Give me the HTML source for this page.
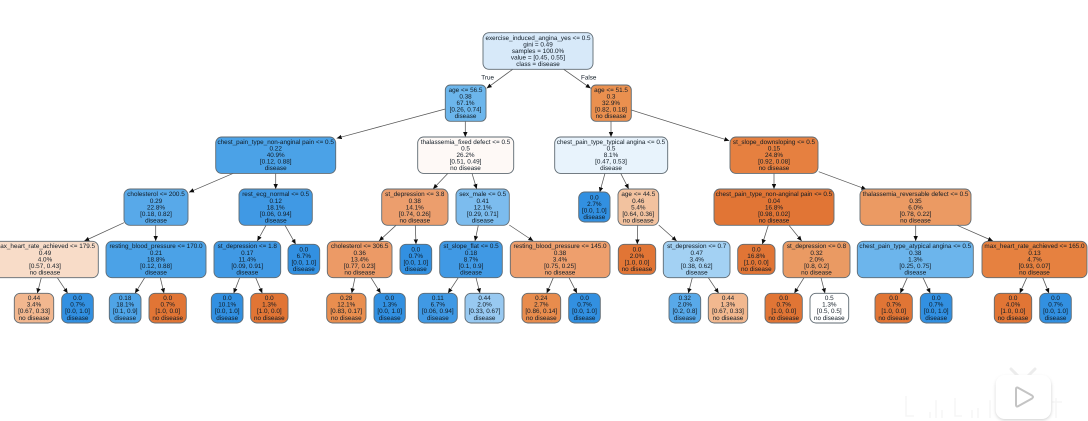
<!DOCTYPE html>
<html><head><meta charset="utf-8"><style>
html,body{margin:0;padding:0;background:#fff;width:1088px;height:421px;overflow:hidden}
svg{display:block;position:absolute;left:0;top:0}
text{font-family:"Liberation Sans",sans-serif;font-size:6.35px;fill:#101a24;text-anchor:middle;text-rendering:geometricPrecision}
.n rect{stroke:#5f6a72;stroke-width:.9}
.e path{stroke:#555;stroke-width:.75;fill:none;marker-end:url(#a)}
</style></head><body>
<svg width="1088" height="421" viewBox="0 0 1088 421" xmlns="http://www.w3.org/2000/svg">
<defs>
<marker id="a" markerUnits="userSpaceOnUse" markerWidth="6" markerHeight="6" refX="5" refY="2.2" orient="auto"><path d="M0 0L5 2.2L0 4.4z" fill="#111"/></marker>
<filter id="b" x="-2%" y="-2%" width="104%" height="104%"><feGaussianBlur stdDeviation=".3"/></filter>
<filter id="s" x="-20%" y="-20%" width="140%" height="140%"><feGaussianBlur stdDeviation="1.6"/></filter>
</defs>
<g filter="url(#b)">
<g class="e">
<path d="M512.7 69.3L486.7 88.3"/><path d="M563.7 69.3L590.7 88.3"/>
<path d="M445.3 109L336.7 138.3"/><path d="M465.3 121L465.3 137"/>
<path d="M611 121L611 137"/><path d="M631.3 110L729.3 140.7"/>
<path d="M233.3 173.3L189 192.3"/><path d="M275.7 173.3L275.7 189"/>
<path d="M124 222.7L84.3 241"/><path d="M155.7 225.3L155.7 241"/>
<path d="M266 225.3L257.3 241"/><path d="M285 225.3L295.7 244.3"/>
<path d="M41.3 277.7L37.3 293.3"/><path d="M57.3 277.7L67.7 293.3"/>
<path d="M144.7 277.7L135 293.3"/><path d="M160.3 277.7L164 293.3"/>
<path d="M239.7 277.7L233.7 293.3"/><path d="M255.7 277.7L262.3 293.3"/>
<path d="M448 173.3L433 189"/><path d="M472 173.3L476.7 189"/>
<path d="M396 225.3L379 241"/><path d="M415.3 225.3L416 244.3"/>
<path d="M478.3 225.3L475 241"/><path d="M509.3 225L533.3 241"/>
<path d="M355 277.7L351.7 293.3"/><path d="M371 277.7L380.7 293.3"/>
<path d="M458.3 277.7L448 293.3"/><path d="M476 277.7L480 293.3"/>
<path d="M553.3 277.7L546.7 293.3"/><path d="M569 277.7L577 293.3"/>
<path d="M605 173.3L599.7 192.3"/><path d="M620.7 173.3L628.7 189"/>
<path d="M637.7 225.3L637.3 244.3"/><path d="M658.7 225L676.7 241"/>
<path d="M692.3 277.7L688.3 293.3"/><path d="M708.3 277.7L718.7 293.3"/>
<path d="M774 173.3L774 189"/><path d="M818.7 171.7L866.3 189.3"/>
<path d="M768.3 225.3L762.3 244.3"/><path d="M789 225.3L801.7 241"/>
<path d="M804 277.7L794.3 293.3"/><path d="M821 277.7L825 293.3"/>
<path d="M915.7 225.3L915.7 241"/><path d="M957.3 225.3L993 241"/>
<path d="M907.3 277.7L900.3 293.3"/><path d="M923 277.7L930.3 293.3"/>
<path d="M1026.7 277.7L1019.7 293.3"/><path d="M1042.7 277.7L1049 293.3"/>
</g>
<text x="487.7" y="79.5">True</text><text x="588.7" y="79.5">False</text>

<g class="n">
<rect x="483" y="32.7" width="110" height="36.6" rx="6" fill="#d7e9f9"/>
<rect x="445.3" y="85" width="40.7" height="36.3" rx="5" fill="#6cb6ec"/>
<rect x="591" y="85" width="40.3" height="36.3" rx="5" fill="#ea9050"/>
<rect x="215.7" y="137" width="120" height="36.4" rx="6" fill="#4ba2e7"/>
<rect x="417.7" y="137" width="96" height="36.4" rx="6" fill="#fef9f6"/>
<rect x="554.7" y="137" width="113" height="36.4" rx="6" fill="#e8f3fc"/>
<rect x="730" y="137" width="88" height="36.4" rx="6" fill="#e6803f"/>
<rect x="124" y="189" width="64" height="36.3" rx="6" fill="#59a9e9"/>
<rect x="239" y="189" width="73.3" height="36.3" rx="6" fill="#4199e4"/>
<rect x="381.7" y="189" width="66.3" height="36.3" rx="6" fill="#ec9e6d"/>
<rect x="456" y="189" width="53.3" height="36.3" rx="6" fill="#7bbcee"/>
<rect x="578.7" y="192" width="31.3" height="30" rx="6" fill="#3090e1"/>
<rect x="618" y="189" width="40.7" height="36.3" rx="6" fill="#f2c29f"/>
<rect x="714" y="189" width="120" height="36.3" rx="6" fill="#e17535"/>
<rect x="860" y="189" width="111" height="36.3" rx="6" fill="#eb9a64"/>
<rect x="-8" y="241.3" width="106.3" height="36.4" rx="6" fill="#f8dcc8"/>
<rect x="106" y="241.3" width="100" height="36.4" rx="6" fill="#4ba2e7"/>
<rect x="214" y="241.3" width="66.7" height="36.4" rx="6" fill="#4099e4"/>
<rect x="288" y="244.3" width="31.7" height="30" rx="6" fill="#3090e1"/>
<rect x="327.3" y="241.3" width="64.7" height="36.4" rx="6" fill="#ec9a66"/>
<rect x="400" y="244.3" width="31.7" height="30" rx="6" fill="#3090e1"/>
<rect x="439.7" y="241.3" width="62.6" height="36.4" rx="6" fill="#4099e4"/>
<rect x="510.3" y="241.3" width="99.7" height="36.4" rx="6" fill="#ee9f6d"/>
<rect x="618.3" y="244.3" width="37.4" height="30" rx="6" fill="#e17535"/>
<rect x="663.3" y="241.3" width="66.7" height="36.4" rx="6" fill="#a3d1f3"/>
<rect x="737.7" y="244.3" width="37.3" height="30" rx="6" fill="#e17535"/>
<rect x="783" y="241.3" width="67" height="36.4" rx="6" fill="#ea9a64"/>
<rect x="857.3" y="241.3" width="116" height="36.4" rx="6" fill="#6cb5ec"/>
<rect x="982" y="241.3" width="105" height="36.4" rx="6" fill="#e6813f"/>
<rect x="14.3" y="293.3" width="39.4" height="29.7" rx="6" fill="#f2b78f"/>
<rect x="61.7" y="293.3" width="31.6" height="29.7" rx="6" fill="#3090e1"/>
<rect x="109.3" y="293.3" width="31.7" height="29.7" rx="6" fill="#4fa4e7"/>
<rect x="149" y="293.3" width="37.3" height="29.7" rx="6" fill="#e17535"/>
<rect x="211.3" y="293.3" width="31.7" height="29.7" rx="6" fill="#3090e1"/>
<rect x="250.7" y="293.3" width="37.3" height="29.7" rx="6" fill="#e17535"/>
<rect x="326.7" y="293.3" width="39.3" height="29.7" rx="6" fill="#e98e50"/>
<rect x="374" y="293.3" width="31.3" height="29.7" rx="6" fill="#3090e1"/>
<rect x="418.3" y="293.3" width="39" height="29.7" rx="6" fill="#4099e4"/>
<rect x="465" y="293.3" width="39" height="29.7" rx="6" fill="#98c9f1"/>
<rect x="522" y="293.3" width="38.7" height="29.7" rx="6" fill="#e88c4e"/>
<rect x="568.7" y="293.3" width="31.6" height="29.7" rx="6" fill="#3090e1"/>
<rect x="669" y="293.3" width="31.7" height="29.7" rx="6" fill="#59a9e9"/>
<rect x="708.3" y="293.3" width="39.4" height="29.7" rx="6" fill="#f2b88f"/>
<rect x="765" y="293.3" width="37.3" height="29.7" rx="6" fill="#e17535"/>
<rect x="810" y="293.3" width="38.7" height="29.7" rx="6" fill="#fff"/>
<rect x="875" y="293.3" width="37.3" height="29.7" rx="6" fill="#e17535"/>
<rect x="920.3" y="293.3" width="31.7" height="29.7" rx="6" fill="#3090e1"/>
<rect x="994.3" y="293.3" width="37.4" height="29.7" rx="6" fill="#e17535"/>
<rect x="1039.7" y="293.3" width="31.6" height="29.7" rx="6" fill="#3090e1"/>
</g>

<text x="538" y="39.8">exercise_induced_angina_yes &lt;= 0.5</text><text x="538" y="46.4">gini = 0.49</text><text x="538" y="53">samples = 100.0%</text><text x="538" y="59.6">value = [0.45, 0.55]</text><text x="538" y="66.2">class = disease</text>

<text x="465.5" y="91.8">age &lt;= 56.5</text><text x="465.5" y="98.4">0.38</text><text x="465.5" y="105">67.1%</text><text x="465.5" y="111.6">[0.26, 0.74]</text><text x="465.5" y="118.2">disease</text>
<text x="611" y="91.8">age &lt;= 51.5</text><text x="611" y="98.4">0.3</text><text x="611" y="105">32.9%</text><text x="611" y="111.6">[0.82, 0.18]</text><text x="611" y="118.2">no disease</text>

<text x="275.7" y="143.8">chest_pain_type_non-anginal pain &lt;= 0.5</text><text x="275.7" y="150.4">0.22</text><text x="275.7" y="157">40.9%</text><text x="275.7" y="163.6">[0.12, 0.88]</text><text x="275.7" y="170.2">disease</text>
<text x="465.5" y="143.8">thalassemia_fixed defect &lt;= 0.5</text><text x="465.5" y="150.4">0.5</text><text x="465.5" y="157">26.2%</text><text x="465.5" y="163.6">[0.51, 0.49]</text><text x="465.5" y="170.2">no disease</text>
<text x="611" y="143.8">chest_pain_type_typical angina &lt;= 0.5</text><text x="611" y="150.4">0.5</text><text x="611" y="157">8.1%</text><text x="611" y="163.6">[0.47, 0.53]</text><text x="611" y="170.2">disease</text>
<text x="774" y="143.8">st_slope_downsloping &lt;= 0.5</text><text x="774" y="150.4">0.15</text><text x="774" y="157">24.8%</text><text x="774" y="163.6">[0.92, 0.08]</text><text x="774" y="170.2">no disease</text>

<text x="156" y="196.2">cholesterol &lt;= 200.5</text><text x="156" y="202.8">0.29</text><text x="156" y="209.4">22.8%</text><text x="156" y="216">[0.18, 0.82]</text><text x="156" y="222.6">disease</text>
<text x="275.7" y="196.2">rest_ecg_normal &lt;= 0.5</text><text x="275.7" y="202.8">0.12</text><text x="275.7" y="209.4">18.1%</text><text x="275.7" y="216">[0.06, 0.94]</text><text x="275.7" y="222.6">disease</text>
<text x="414.8" y="196.2">st_depression &lt;= 3.8</text><text x="414.8" y="202.8">0.38</text><text x="414.8" y="209.4">14.1%</text><text x="414.8" y="216">[0.74, 0.26]</text><text x="414.8" y="222.6">no disease</text>
<text x="482.7" y="196.2">sex_male &lt;= 0.5</text><text x="482.7" y="202.8">0.41</text><text x="482.7" y="209.4">12.1%</text><text x="482.7" y="216">[0.29, 0.71]</text><text x="482.7" y="222.6">disease</text>
<text x="594.3" y="199.5">0.0</text><text x="594.3" y="206">2.7%</text><text x="594.3" y="212.5">[0.0, 1.0]</text><text x="594.3" y="219.1">disease</text>
<text x="638.3" y="196.2">age &lt;= 44.5</text><text x="638.3" y="202.8">0.46</text><text x="638.3" y="209.4">5.4%</text><text x="638.3" y="216">[0.64, 0.36]</text><text x="638.3" y="222.6">no disease</text>
<text x="774" y="196.2">chest_pain_type_non-anginal pain &lt;= 0.5</text><text x="774" y="202.8">0.04</text><text x="774" y="209.4">16.8%</text><text x="774" y="216">[0.98, 0.02]</text><text x="774" y="222.6">no disease</text>
<text x="915.5" y="196.2">thalassemia_reversable defect &lt;= 0.5</text><text x="915.5" y="202.8">0.35</text><text x="915.5" y="209.4">6.0%</text><text x="915.5" y="216">[0.78, 0.22]</text><text x="915.5" y="222.6">no disease</text>

<text x="45" y="248.2">max_heart_rate_achieved &lt;= 179.5</text><text x="45" y="254.8">0.49</text><text x="45" y="261.4">4.0%</text><text x="45" y="268">[0.57, 0.43]</text><text x="45" y="274.6">no disease</text>
<text x="156" y="248.2">resting_blood_pressure &lt;= 170.0</text><text x="156" y="254.8">0.21</text><text x="156" y="261.4">18.8%</text><text x="156" y="268">[0.12, 0.88]</text><text x="156" y="274.6">disease</text>
<text x="247.3" y="248.2">st_depression &lt;= 1.8</text><text x="247.3" y="254.8">0.17</text><text x="247.3" y="261.4">11.4%</text><text x="247.3" y="268">[0.09, 0.91]</text><text x="247.3" y="274.6">disease</text>
<text x="303.8" y="251.5">0.0</text><text x="303.8" y="258">6.7%</text><text x="303.8" y="264.6">[0.0, 1.0]</text><text x="303.8" y="271.1">disease</text>
<text x="359.7" y="248.2">cholesterol &lt;= 306.5</text><text x="359.7" y="254.8">0.36</text><text x="359.7" y="261.4">13.4%</text><text x="359.7" y="268">[0.77, 0.23]</text><text x="359.7" y="274.6">no disease</text>
<text x="415.8" y="251.5">0.0</text><text x="415.8" y="258">0.7%</text><text x="415.8" y="264.6">[0.0, 1.0]</text><text x="415.8" y="271.1">disease</text>
<text x="471" y="248.2">st_slope_flat &lt;= 0.5</text><text x="471" y="254.8">0.18</text><text x="471" y="261.4">8.7%</text><text x="471" y="268">[0.1, 0.9]</text><text x="471" y="274.6">disease</text>
<text x="560" y="248.2">resting_blood_pressure &lt;= 145.0</text><text x="560" y="254.8">0.38</text><text x="560" y="261.4">3.4%</text><text x="560" y="268">[0.75, 0.25]</text><text x="560" y="274.6">no disease</text>
<text x="637" y="251.5">0.0</text><text x="637" y="258">2.0%</text><text x="637" y="264.6">[1.0, 0.0]</text><text x="637" y="271.1">no disease</text>
<text x="696.7" y="248.2">st_depression &lt;= 0.7</text><text x="696.7" y="254.8">0.47</text><text x="696.7" y="261.4">3.4%</text><text x="696.7" y="268">[0.38, 0.62]</text><text x="696.7" y="274.6">disease</text>
<text x="756.3" y="251.5">0.0</text><text x="756.3" y="258">16.8%</text><text x="756.3" y="264.6">[1.0, 0.0]</text><text x="756.3" y="271.1">no disease</text>
<text x="816.5" y="248.2">st_depression &lt;= 0.8</text><text x="816.5" y="254.8">0.32</text><text x="816.5" y="261.4">2.0%</text><text x="816.5" y="268">[0.8, 0.2]</text><text x="816.5" y="274.6">no disease</text>
<text x="915.3" y="248.2">chest_pain_type_atypical angina &lt;= 0.5</text><text x="915.3" y="254.8">0.38</text><text x="915.3" y="261.4">1.3%</text><text x="915.3" y="268">[0.25, 0.75]</text><text x="915.3" y="274.6">disease</text>
<text x="1034.5" y="248.2">max_heart_rate_achieved &lt;= 165.0</text><text x="1034.5" y="254.8">0.13</text><text x="1034.5" y="261.4">4.7%</text><text x="1034.5" y="268">[0.93, 0.07]</text><text x="1034.5" y="274.6">no disease</text>

<text x="34" y="300">0.44</text><text x="34" y="306.6">3.4%</text><text x="34" y="313.2">[0.67, 0.33]</text><text x="34" y="319.9">no disease</text>
<text x="77.5" y="300">0.0</text><text x="77.5" y="306.6">0.7%</text><text x="77.5" y="313.2">[0.0, 1.0]</text><text x="77.5" y="319.9">disease</text>
<text x="125.2" y="300">0.18</text><text x="125.2" y="306.6">18.1%</text><text x="125.2" y="313.2">[0.1, 0.9]</text><text x="125.2" y="319.9">disease</text>
<text x="167.7" y="300">0.0</text><text x="167.7" y="306.6">0.7%</text><text x="167.7" y="313.2">[1.0, 0.0]</text><text x="167.7" y="319.9">no disease</text>
<text x="227.2" y="300">0.0</text><text x="227.2" y="306.6">10.1%</text><text x="227.2" y="313.2">[0.0, 1.0]</text><text x="227.2" y="319.9">disease</text>
<text x="269.3" y="300">0.0</text><text x="269.3" y="306.6">1.3%</text><text x="269.3" y="313.2">[1.0, 0.0]</text><text x="269.3" y="319.9">no disease</text>
<text x="346.3" y="300">0.28</text><text x="346.3" y="306.6">12.1%</text><text x="346.3" y="313.2">[0.83, 0.17]</text><text x="346.3" y="319.9">no disease</text>
<text x="389.7" y="300">0.0</text><text x="389.7" y="306.6">1.3%</text><text x="389.7" y="313.2">[0.0, 1.0]</text><text x="389.7" y="319.9">disease</text>
<text x="437.8" y="300">0.11</text><text x="437.8" y="306.6">6.7%</text><text x="437.8" y="313.2">[0.06, 0.94]</text><text x="437.8" y="319.9">disease</text>
<text x="484.5" y="300">0.44</text><text x="484.5" y="306.6">2.0%</text><text x="484.5" y="313.2">[0.33, 0.67]</text><text x="484.5" y="319.9">disease</text>
<text x="541.3" y="300">0.24</text><text x="541.3" y="306.6">2.7%</text><text x="541.3" y="313.2">[0.86, 0.14]</text><text x="541.3" y="319.9">no disease</text>
<text x="584.5" y="300">0.0</text><text x="584.5" y="306.6">0.7%</text><text x="584.5" y="313.2">[0.0, 1.0]</text><text x="584.5" y="319.9">disease</text>
<text x="684.8" y="300">0.32</text><text x="684.8" y="306.6">2.0%</text><text x="684.8" y="313.2">[0.2, 0.8]</text><text x="684.8" y="319.9">disease</text>
<text x="728" y="300">0.44</text><text x="728" y="306.6">1.3%</text><text x="728" y="313.2">[0.67, 0.33]</text><text x="728" y="319.9">no disease</text>
<text x="783.7" y="300">0.0</text><text x="783.7" y="306.6">0.7%</text><text x="783.7" y="313.2">[1.0, 0.0]</text><text x="783.7" y="319.9">no disease</text>
<text x="829.3" y="300">0.5</text><text x="829.3" y="306.6">1.3%</text><text x="829.3" y="313.2">[0.5, 0.5]</text><text x="829.3" y="319.9">no disease</text>
<text x="893.7" y="300">0.0</text><text x="893.7" y="306.6">0.7%</text><text x="893.7" y="313.2">[1.0, 0.0]</text><text x="893.7" y="319.9">no disease</text>
<text x="936.2" y="300">0.0</text><text x="936.2" y="306.6">0.7%</text><text x="936.2" y="313.2">[0.0, 1.0]</text><text x="936.2" y="319.9">disease</text>
<text x="1013" y="300">0.0</text><text x="1013" y="306.6">4.0%</text><text x="1013" y="313.2">[1.0, 0.0]</text><text x="1013" y="319.9">no disease</text>
<text x="1055.5" y="300">0.0</text><text x="1055.5" y="306.6">0.7%</text><text x="1055.5" y="313.2">[0.0, 1.0]</text><text x="1055.5" y="319.9">disease</text>
</g>

<g fill="none" stroke="#f6f6f6" stroke-width="1.4">
<path d="M906 396V416H914M930 412V418M936 400V418M942 410V418M955 398V416H962M972 410V418M978 408V418M990 400V418M1052 402H1062M1056 398V418"/>
</g>
<rect x="996" y="377" width="55" height="43" rx="9" fill="#aaa" opacity=".6" filter="url(#s)"/>
<path d="M1011 369L1018 376M1035 369L1028 376" stroke="#ececec" stroke-width="3" stroke-linecap="round" fill="none"/>
<rect x="995.7" y="375" width="55.3" height="44" rx="9" fill="#fff"/>
<path d="M1016 389.5Q1016 386.5 1018.5 388L1032 395.5Q1034 397 1032 398.5L1018.5 406Q1016 407.5 1016 404.5Z" fill="#fff" stroke="#c4c4c4" stroke-width="2"/>
</svg>
</body></html>
